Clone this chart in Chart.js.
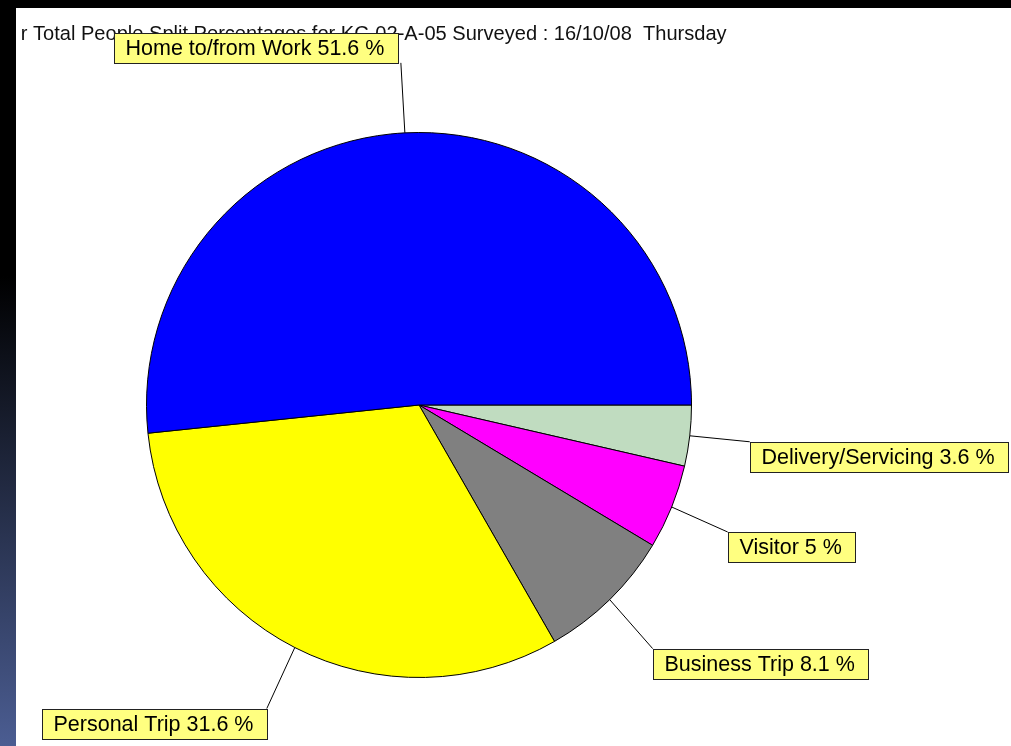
<!DOCTYPE html>
<html>
<head>
<meta charset="utf-8">
<script src="https://cdn.jsdelivr.net/npm/chart.js@4"></script>
<style>
html,body{margin:0;padding:0;background:#fff;overflow:hidden;}
canvas{display:block;}
</style>
</head>
<body>
<canvas id="c" width="1011" height="746"></canvas>
<script>
// Data (listed clockwise from 3 o'clock)
const categories = ["Delivery/Servicing", "Visitor", "Business Trip", "Personal Trip", "Home to/from Work"];
const percentages = [3.6, 5, 8.1, 31.6, 51.6];
const sliceColors = ["#C0DCC0", "#FF00FF", "#808080", "#FFFF00", "#0000FF"];
const titleLead = "r ";
const titleText = "Total People Split Percentages for KC-02-A-05 Surveyed : 16/10/08  Thursday";

// label placement: offset of leader end from slice edge, and which box corner it meets
const labelLayout = [
  {dx: 60, dy: 6, corner: "tl"},
  {dx: 56, dy: 25, corner: "tl"},
  {dx: 43, dy: 49, corner: "tl"},
  {dx: -28, dy: 61, corner: "tr"},
  {dx: -4, dy: -70, corner: "br", shift: -3}
];

const FONT = "'Liberation Sans', Arial, sans-serif";

const decor = {
  id: 'decor',
  beforeDraw(chart) {
    const ctx = chart.ctx;
    ctx.save();
    ctx.fillStyle = '#ffffff';
    ctx.fillRect(0, 0, chart.width, chart.height);
    ctx.restore();
  },
  afterDraw(chart) {
    const ctx = chart.ctx;
    ctx.save();
    // title
    ctx.font = '100px ' + FONT;
    const w100 = ctx.measureText(titleText).width;
    const fs = 694 / w100 * 100;
    ctx.font = fs + 'px ' + FONT;
    ctx.fillStyle = '#111';
    ctx.textBaseline = 'alphabetic';
    const leadW = ctx.measureText(titleLead).width;
    ctx.fillText(titleLead + titleText, 33 - leadW, 40);

    // labels
    const meta = chart.getDatasetMeta(0);
    ctx.font = '21.5px ' + FONT;
    meta.data.forEach((arc, i) => {
      const p = arc.getProps(['x','y','startAngle','endAngle','outerRadius'], true);
      const mid = (p.startAngle + p.endAngle) / 2;
      const ax = p.x + Math.cos(mid) * p.outerRadius;
      const ay = p.y + Math.sin(mid) * p.outerRadius;
      const L = labelLayout[i];
      const ex = ax + L.dx, ey = ay + L.dy;
      const txt = categories[i] + ' ' + percentages[i] + ' %';
      const tw = ctx.measureText(txt).width;
      const bw = Math.round(tw + 25), bh = 30;
      let bx = (L.corner.includes('l') ? ex : ex - bw) + (L.shift || 0);
      let by = L.corner.includes('t') ? ey : ey - bh;
      bx = Math.round(bx) + 0.5; by = Math.round(by) + 0.5;
      // leader
      ctx.strokeStyle = '#000';
      ctx.lineWidth = 1;
      ctx.beginPath();
      ctx.moveTo(ax, ay);
      ctx.lineTo(ex, ey);
      ctx.stroke();
      // box
      ctx.fillStyle = '#FFFF80';
      ctx.fillRect(bx, by, bw, bh);
      ctx.strokeStyle = '#222';
      ctx.strokeRect(bx, by, bw, bh);
      ctx.fillStyle = '#000';
      ctx.textBaseline = 'middle';
      ctx.textAlign = 'left';
      ctx.fillText(txt, bx + 11, by + bh / 2 + 1);
    });

    // frame bands
    ctx.fillStyle = '#000';
    ctx.fillRect(0, 0, chart.width, 8);
    const g = ctx.createLinearGradient(0, 0, 0, chart.height);
    g.addColorStop(0, '#000000');
    g.addColorStop(0.37, '#000000');
    g.addColorStop(1, '#4b5d92');
    ctx.fillStyle = g;
    ctx.fillRect(0, 0, 16, chart.height);
    ctx.restore();
  }
};

new Chart(document.getElementById('c'), {
  type: 'pie',
  data: {
    labels: categories,
    datasets: [{
      data: percentages,
      backgroundColor: sliceColors,
      borderColor: '#000',
      borderWidth: 1
    }]
  },
  options: {
    responsive: false,
    animation: false,
    devicePixelRatio: 1,
    rotation: 90,
    layout: {padding: {left: 146, top: 132, right: 319, bottom: 68}},
    plugins: {legend: {display: false}, tooltip: {enabled: false}, title: {display: false}}
  },
  plugins: [decor]
});
</script>
</body>
</html>
